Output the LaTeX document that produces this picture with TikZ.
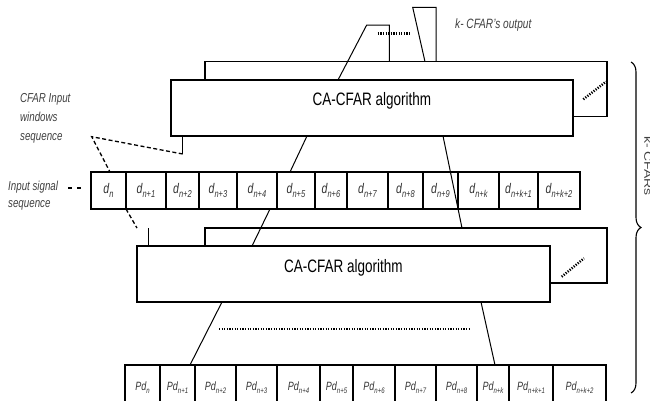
\documentclass[tikz,border=0pt]{standalone}
\usepackage{fontspec}
\setmainfont{Liberation Sans}
\usepackage{graphicx}
\usepackage{tikz}
\usetikzlibrary{decorations.pathreplacing, calc}

% texto estrecho, como en el original
\newcommand{\estrecho}[1]{\scalebox{0.75}[1]{#1}}
\newcommand{\subi}[2]{\raisebox{-0.3em}{\fontsize{#1}{#1}\selectfont\itshape #2}}
\newcommand{\etd}[1]{\estrecho{\fontsize{14}{14}\selectfont\itshape d\subi{10}{#1}}}
\newcommand{\etpd}[1]{\estrecho{\fontsize{12}{12}\selectfont\itshape Pd\subi{8}{#1}}}

\begin{document}
\begin{tikzpicture}[x=1pt, y=-1pt,
    bloque/.style={draw, fill=white, line width=1.3pt, inner sep=0pt},
    celda/.style={draw, fill=white, line width=1.1pt, inner sep=0pt, text=black!80},
    traza/.style={line width=1pt},
    rayas/.style={line width=1.3pt, dash pattern=on 4pt off 2.5pt},
    puntos/.style={line width=2.4pt, dash pattern=on 1.2pt off 1.4pt},
    rotulo/.style={text=black!75, inner sep=0pt}]

    \clip (0,0) rectangle (650,400);

    % Pila superior de bloques CA-CFAR
    \node[bloque, minimum width=402pt, minimum height=55pt] (fondoA) at (406,89.2) {};
    \node[bloque, minimum width=402pt, minimum height=56pt,
          label={[yshift=7pt]center:\estrecho{\fontsize{18}{18}\selectfont CA-CFAR algorithm}}] (cajaA) at (372,108) {};

    % Ventana y salida
    \coordinate (v1) at (338,80);
    \coordinate (v2) at (366.7,25);
    \coordinate (v3) at (389.3,25);
    \coordinate (v4) at (389.3,61.7);
    \coordinate (s1) at (425,61.7);
    \coordinate (s2) at (412.7,7.3);
    \coordinate (s3) at (436,7.3);
    \coordinate (s4) at (436,61.7);
    \coordinate (p1) at (377.7,33.3);
    \coordinate (p2) at (411,33.3);
    \draw[traza] (v1) -- (v2) -- (v3) -- (v4);
    \draw[traza] (s1) -- (s2) -- (s3) -- (s4);
    \draw[puntos] (p1) -- (p2);
    \draw[puntos] (583.3,99.3) coordinate (q1) -- (606,81.7) coordinate (q2);

    \node[rotulo, anchor=west] (salida) at (455,25)
        {\estrecho{\fontsize{13.5}{13.5}\selectfont\itshape k- CFAR's output}};

    % Textos de la izquierda
    \node[rotulo, anchor=west] (ventanas) at (20,117.5)
        {\estrecho{\fontsize{13}{19}\selectfont\itshape\begin{tabular}{@{}l@{}}CFAR Input\\windows\\sequence\end{tabular}}};
    \node[rotulo, anchor=west] (senal) at (8,195.7)
        {\estrecho{\fontsize{13}{16.7}\selectfont\itshape\begin{tabular}{@{}l@{}}Input signal\\sequence\end{tabular}}};

    % Secuencia de entrada
    \foreach \xa/\xb/\s [count=\i] in {91/126/n, 126/166/n+1, 166/199/n+2, 199/237/n+3,
        237/277/n+4, 277/315/n+5, 315/347/n+6, 347/388/n+7, 388/423/n+8, 423/458/n+9,
        458/499/n+k, 499/538/n+k+1, 538/580/n+k+2}
        \node[celda, minimum width={\xb-\xa}, minimum height=37pt] (d\i) at ({(\xa+\xb)/2},190.5) {\etd{\s}};

    % Conexiones de la pila superior
    \coordinate (a1) at (307,136);
    \coordinate (a2) at (290,172);
    \coordinate (b1) at (443,136);
    \coordinate (b2) at (462,228);
    \coordinate (t1) at (182.7,136);
    \coordinate (t2) at (182.7,154);
    \coordinate (vert) at (91.7,136.7);
    \coordinate (e1) at (110,172);
    \draw[traza] (a1) -- (a2);
    \draw[traza] (b1) -- (b2);
    \draw[traza] (t1) -- (t2);
    \draw[rayas] (t2) -- (vert) -- (e1);
    \draw[rayas, dash pattern=on 4pt off 5pt] (68,188) coordinate (g1) -- (81,188) coordinate (g2);

    % Pila inferior
    \node[bloque, minimum width=402pt, minimum height=55pt] (fondoB) at (406,255.5) {};
    \node[bloque, minimum width=413pt, minimum height=56pt,
          label={[yshift=6pt]center:\estrecho{\fontsize{18}{18}\selectfont CA-CFAR algorithm}}] (cajaB) at (343.5,274) {};
    \draw[puntos] (561.7,276.7) coordinate (r1) -- (584,258.3) coordinate (r2);

    \coordinate (c1) at (126,209);
    \coordinate (c2) at (137,228);
    \coordinate (u1) at (148,228);
    \coordinate (u2) at (148,246);
    \coordinate (f1) at (270,209);
    \coordinate (f2) at (252,246);
    \draw[rayas] (c1) -- (c2);
    \draw[traza] (u1) -- (u2);
    \draw[traza] (f1) -- (f2);

    % Salidas de la pila inferior
    \coordinate (h1) at (222,302);
    \coordinate (h2) at (190,365);
    \coordinate (k1) at (481,302);
    \coordinate (k2) at (495,365);
    \draw[traza] (h1) -- (h2);
    \draw[traza] (k1) -- (k2);
    \draw[puntos] (219,329) coordinate (m1) -- (471,329) coordinate (m2);

    % Secuencia de salida
    \foreach \xa/\xb/\s [count=\i] in {125/160/n, 160/195/n+1, 195/236/n+2, 236/277/n+3,
        277/320/n+4, 320/353/n+5, 353/395/n+6, 395/436/n+7, 436/477/n+8, 477/509/n+k,
        509/553/n+k+1, 553/606/n+k+2}
        \node[celda, minimum width={\xb-\xa}, minimum height=45pt] (pd\i) at ({(\xa+\xb)/2},387.5) {\etpd{\s}};

    % Llave de las k CFARs
    \coordinate (l1) at (631,62);
    \coordinate (l2) at (631,393);
    \draw[line width=1.1pt, decorate, decoration={brace, amplitude=10pt}] (l1) -- (l2);
    \node[rotulo, rotate=-90, anchor=south] (kcfar) at (644,166)
        {\scalebox{1}[0.75]{\fontsize{14}{14}\selectfont k- CFARs}};

\end{tikzpicture}
\end{document}
